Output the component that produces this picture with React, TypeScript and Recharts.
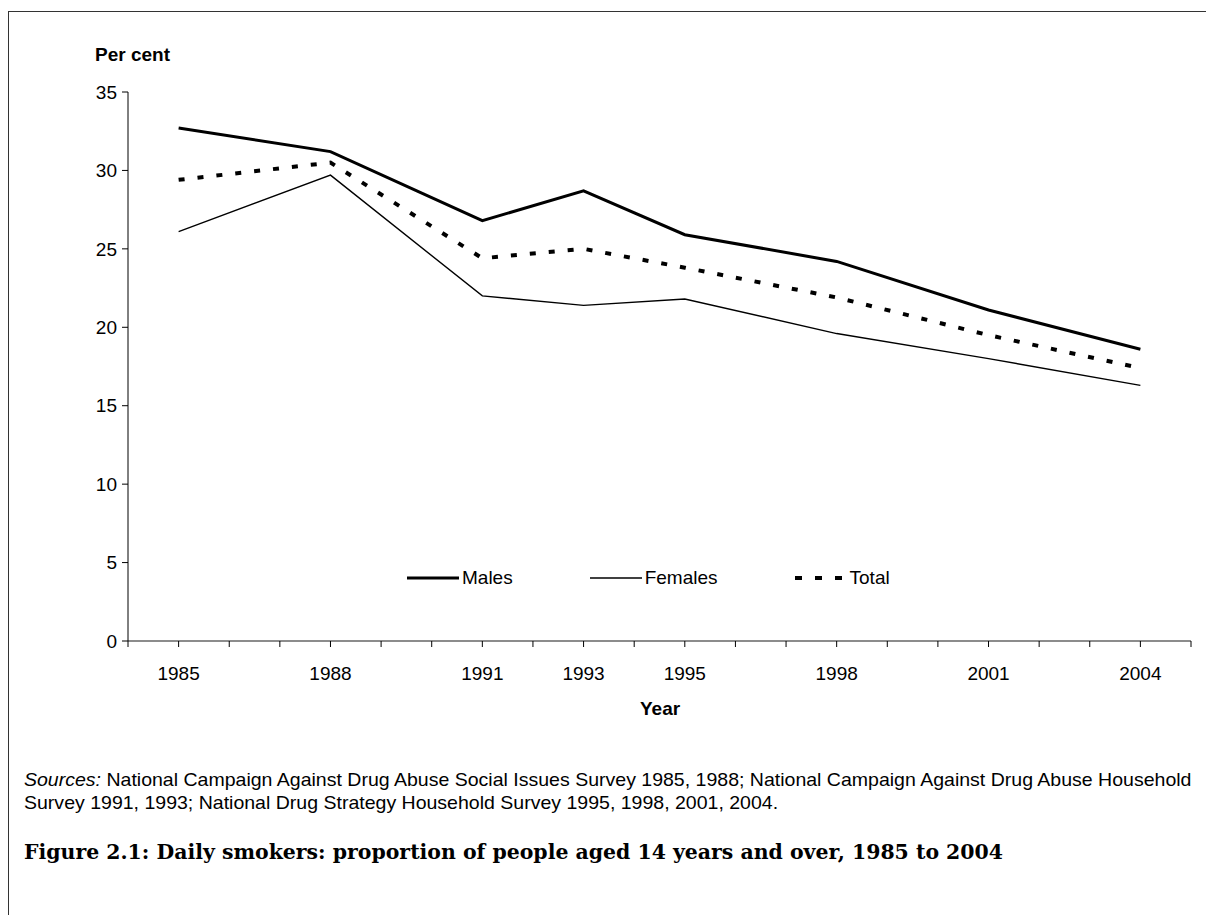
import React from "react";
import { LineChart, Line, XAxis, YAxis } from "recharts";

const years = [1985, 1988, 1991, 1993, 1995, 1998, 2001, 2004];
const males = [32.7, 31.2, 26.8, 28.7, 25.9, 24.2, 21.1, 18.6];
const females = [26.1, 29.7, 22.0, 21.4, 21.8, 19.6, 18.0, 16.3];
const total = [29.4, 30.5, 24.4, 25.0, 23.8, 21.9, 19.5, 17.4];
const xTicks = [1984, 1985, 1986, 1987, 1988, 1989, 1990, 1991, 1992, 1993, 1994, 1995, 1996, 1997, 1998, 1999, 2000, 2001, 2002, 2003, 2004, 2005];
const xLabels = [1985, 1988, 1991, 1993, 1995, 1998, 2001, 2004];
const yTicks = [0, 5, 10, 15, 20, 25, 30, 35];

const data = years.map((y, i) => ({ year: y, Males: males[i], Females: females[i], Total: total[i] }));

const FONT = '"Liberation Sans", Arial, sans-serif';

const series = [
  { key: "Males", width: 3, dash: undefined as string | undefined, legendDash: undefined as string | undefined },
  { key: "Females", width: 1.4, dash: undefined as string | undefined, legendDash: undefined as string | undefined },
  { key: "Total", width: 4, dash: "6 13", legendDash: "7 13" },
];

const LegendBlock = () => (
  <div style={{ position: "absolute", left: 407, top: 566, display: "flex", alignItems: "center", gap: 77, fontFamily: FONT, fontSize: 19, lineHeight: "24px", color: "#000" }}>
    {series.map((s) => (
      <div key={s.key} style={{ display: "flex", alignItems: "center" }}>
        <svg width={52} height={10} style={{ display: "block" }}>
          <line x1={0} y1={5} x2={52} y2={5} stroke="#000" strokeWidth={s.width} strokeDasharray={s.legendDash} />
        </svg>
        <span style={{ marginLeft: 3 }}>{s.key}</span>
      </div>
    ))}
  </div>
);

const srcStyle: React.CSSProperties = {
  position: "absolute",
  left: 24,
  fontFamily: FONT,
  fontSize: 18.5,
  lineHeight: "22px",
  color: "#000",
  whiteSpace: "nowrap",
  transform: "scaleX(1.055)",
  transformOrigin: "0 0",
};

export default function App() {
  return (
    <div style={{ position: "absolute", left: 0, top: 0, width: 1206, height: 915, background: "#fff", overflow: "hidden" }}>
      <div style={{ position: "absolute", left: 8, top: 11, width: 1198, height: 904, borderTop: "1.5px solid #333", borderLeft: "1.5px solid #333", boxSizing: "border-box" }} />
      <div style={{ position: "absolute", left: 0, top: 0 }}>
        <LineChart width={1206} height={700} data={data} margin={{ top: 92, right: 15, left: 68, bottom: 19 }}>
          <XAxis
            dataKey="year"
            type="number"
            domain={[1984, 2005]}
            ticks={xTicks}
            interval={0}
            tickFormatter={(v: number) => (xLabels.includes(v) ? String(v) : "")}
            tickSize={6}
            tickMargin={20}
            height={40}
            axisLine={{ stroke: "#666", strokeWidth: 1.5 }}
            tickLine={{ stroke: "#000", strokeWidth: 1 }}
            tick={{ fill: "#000", fontSize: 19, fontFamily: FONT }}
          />
          <YAxis
            type="number"
            domain={[0, 35]}
            ticks={yTicks}
            interval={0}
            width={60}
            tickSize={6}
            tickMargin={5}
            axisLine={{ stroke: "#000", strokeWidth: 1 }}
            tickLine={{ stroke: "#000", strokeWidth: 1 }}
            tick={{ fill: "#000", fontSize: 19, fontFamily: FONT }}
          />
          {series.map((s) => (
            <Line
              key={s.key}
              dataKey={s.key}
              stroke="#000"
              strokeWidth={s.width}
              strokeDasharray={s.dash}
              dot={false}
              activeDot={false}
              isAnimationActive={false}
              strokeLinejoin="miter"
            />
          ))}
        </LineChart>
      </div>
      <LegendBlock />
      <div style={{ position: "absolute", left: 95, top: 43, fontFamily: FONT, fontWeight: "bold", fontSize: 19, lineHeight: "24px" }}>Per cent</div>
      <div style={{ position: "absolute", left: 640, top: 697, fontFamily: FONT, fontWeight: "bold", fontSize: 19, lineHeight: "24px" }}>Year</div>
      <div style={{ ...srcStyle, top: 769 }}>
        <i>Sources:</i> National Campaign Against Drug Abuse Social Issues Survey 1985, 1988; National Campaign Against Drug Abuse Household
      </div>
      <div style={{ ...srcStyle, top: 792 }}>
        Survey 1991, 1993; National Drug Strategy Household Survey 1995, 1998, 2001, 2004.
      </div>
      <svg width={1206} height={915} style={{ position: "absolute", left: 0, top: 0, pointerEvents: "none" }}>
        <text x={24} y={859} fontFamily='"DejaVu Serif", "Liberation Serif", serif' fontWeight="bold" fontSize={20} fill="#000" textLength={979} lengthAdjust="spacingAndGlyphs">
          Figure 2.1: Daily smokers: proportion of people aged 14 years and over, 1985 to 2004
        </text>
      </svg>
    </div>
  );
}
